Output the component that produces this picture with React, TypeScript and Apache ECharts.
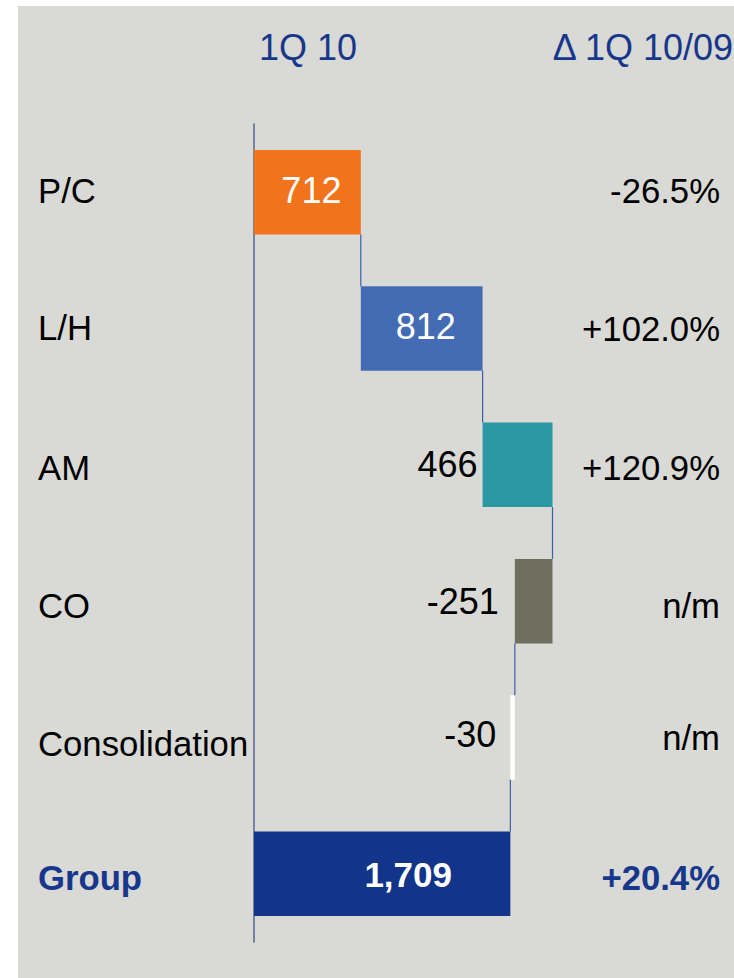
import React, { useEffect, useRef } from "react";
import * as echarts from "echarts";

const categories = ["P/C", "L/H", "AM", "CO", "Consolidation", "Group"];
const values = [712, 812, 466, -251, -30, 1709];
const changes = ["-26.5%", "+102.0%", "+120.9%", "n/m", "n/m", "+20.4%"];
const colors = ["#f1731b", "#436cb4", "#2b97a5", "#6e6f5f", "#ffffff", "#12348a"];
const headerLeft = "1Q 10";
const headerRight = "Δ 1Q 10/09";

const NAVY = "#17378c";
const FONT = "Liberation Sans, Arial, sans-serif";
// small per-row vertical nudges (px, positive = down) of the text columns
const leftShift = [-1.5, -1, 3.5, 4.5, 6, 3.7];
const rightShift = [-1, 0, 3.5, 4.5, 0, 3.7];

export default function App() {
  const ref = useRef<HTMLDivElement>(null);
  useEffect(() => {
    if (!ref.current) return;
    const chart = echarts.init(ref.current, null, { renderer: "svg" });

    const bases: number[] = [];
    const ends: number[] = [];
    let cum = 0;
    values.forEach((v, i) => {
      if (i === values.length - 1) {
        bases.push(0);
        ends.push(v);
        return;
      }
      const next = cum + v;
      bases.push(Math.min(cum, next));
      ends.push(next);
      cum = next;
    });

    const visible = values.map((v, i) => {
      const isTotal = i === values.length - 1;
      const inside = i === 0 || i === 1 || isTotal;
      return {
        value: Math.abs(v),
        itemStyle: { color: colors[i] },
        label: {
          show: true,
          position: inside ? "inside" : "left",
          distance: i === 2 ? 5 : i === 3 ? 16 : 14,
          offset: isTotal ? [26, 1] : inside ? [4, -2] : [0, i === 4 ? -3 : 0],
          color: inside ? "#ffffff" : "#000000",
          fontSize: isTotal ? 35 : 36,
          fontWeight: isTotal ? "bold" : "normal",
          fontFamily: FONT,
          formatter: () => v.toLocaleString("en-US"),
        },
      };
    });

    const connectors = ends.slice(0, values.length - 1).map((x, i) => [x, i]);

    const makeRich = (shifts: number[]) => {
      const r: Record<string, any> = {};
      shifts.forEach((s, i) => {
        const pad = s >= 0 ? [2 * s, 0, 0, 0] : [0, 0, -2 * s, 0];
        r["r" + i] = {
          fontSize: 34.7,
          color: i === shifts.length - 1 ? NAVY : "#000000",
          fontWeight: i === shifts.length - 1 ? "bold" : "normal",
          fontFamily: FONT,
          padding: pad,
        };
      });
      return r;
    };

    chart.setOption({
      animation: false,
      backgroundColor: "#ffffff",
      graphic: [
        {
          type: "rect",
          shape: { x: 18, y: 6, width: 716, height: 972 },
          style: { fill: "#d9d9d5" },
          z: -10,
          silent: true,
        },
        {
          type: "text",
          x: 259,
          y: 47,
          style: {
            text: headerLeft,
            fill: NAVY,
            font: `36px ${FONT}`,
            textAlign: "left",
            textVerticalAlign: "middle",
          },
        },
        {
          type: "text",
          x: 733,
          y: 47,
          style: {
            text: headerRight,
            fill: NAVY,
            font: `36px ${FONT}`,
            textAlign: "right",
            textVerticalAlign: "middle",
          },
        },
      ],
      grid: { left: 254, top: 124, height: 818, width: 300, containLabel: false },
      xAxis: {
        type: "value",
        min: 0,
        max: 2000,
        show: false,
      },
      yAxis: [
        {
          type: "category",
          inverse: true,
          data: categories,
          axisLine: { show: true, lineStyle: { color: "#56658c", width: 1.5 } },
          axisTick: { show: false },
          splitLine: { show: false },
          axisLabel: {
            align: "left",
            margin: 216,
            fontFamily: FONT,
            formatter: (val: string, idx: number) => `{r${idx}|${val}}`,
            rich: makeRich(leftShift),
          },
        },
        {
          type: "category",
          inverse: true,
          position: "right",
          data: changes,
          axisLine: { show: false },
          axisTick: { show: false },
          splitLine: { show: false },
          axisLabel: {
            align: "right",
            margin: 166,
            fontFamily: FONT,
            formatter: (val: string, idx: number) => `{r${idx}|${val}}`,
            rich: makeRich(rightShift),
          },
        },
      ],
      series: [
        {
          type: "bar",
          stack: "w",
          barWidth: "62%",
          data: bases,
          itemStyle: { color: "transparent" },
          emphasis: { disabled: true },
          silent: true,
        },
        {
          type: "bar",
          stack: "w",
          barWidth: "62%",
          data: visible,
        },
        {
          type: "custom",
          data: connectors,
          silent: true,
          z: 3,
          renderItem: (params: any, api: any) => {
            const x = api.value(0);
            const i = api.value(1);
            const p1 = api.coord([x, i]);
            const p2 = api.coord([x, i + 1]);
            const half = (api.size([0, 1])[1] * 0.62) / 2;
            return {
              type: "line",
              shape: { x1: p1[0], y1: p1[1] + half, x2: p2[0], y2: p2[1] - half },
              style: { stroke: "#3d5eae", lineWidth: 1.2 },
            };
          },
        },
      ],
    });
    return () => chart.dispose();
  }, []);

  return (
    <div style={{ position: "absolute", left: 0, top: 0, width: 734, height: 978 }}>
      <div ref={ref} style={{ width: 734, height: 978 }} />
    </div>
  );
}
